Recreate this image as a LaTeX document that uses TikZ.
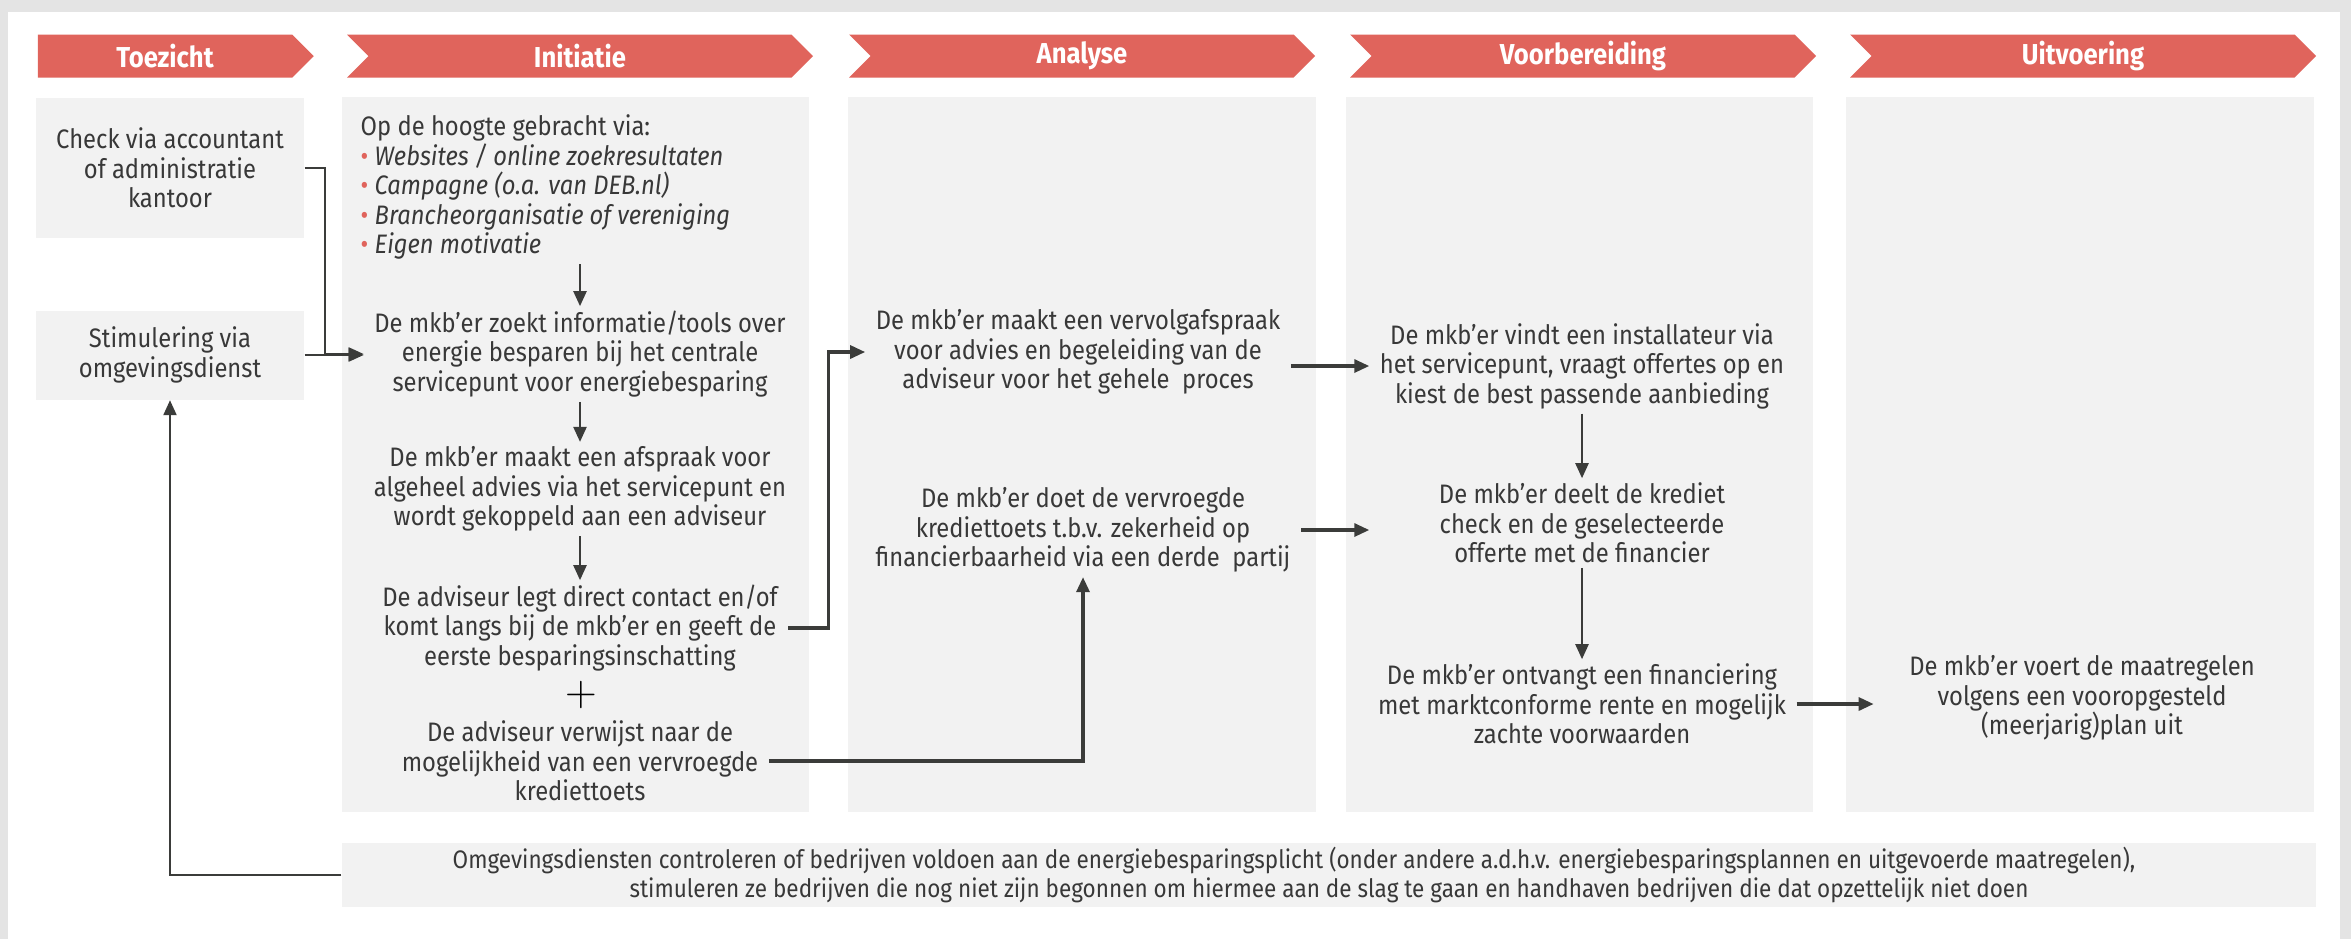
\documentclass[tikz,border=0pt]{standalone}
\usepackage{fontspec}
\setmainfont{Fira Sans}[FakeStretch=0.89]
\usetikzlibrary{arrows.meta,shapes.symbols}
\definecolor{kopRood}{HTML}{E0645C}
\definecolor{vakGrijs}{HTML}{F2F2F2}
\definecolor{lijnGrijs}{HTML}{3B3C3A}
\definecolor{tekstGrijs}{HTML}{383838}
\definecolor{randGrijs}{HTML}{E4E4E4}
\newcommand{\stapfont}{\fontsize{7.6pt}{8.4pt}\selectfont}

\begin{document}
\begin{tikzpicture}[x=0.1mm, y=-0.1mm, >={Triangle[length=1.5mm,width=1.3mm]},
  fase/.style={shape=signal, signal to=east, signal from=west, fill=kopRood, text=white,
    font=\fontsize{8.2pt}{10pt}\selectfont\bfseries, minimum width=46.6mm, minimum height=4.3mm, inner sep=0pt},
  vak/.style={fill=vakGrijs},
  stap/.style={align=center, text=tekstGrijs, font=\stapfont, inner xsep=1mm, inner ysep=0.4mm},
  pijl/.style={->, draw=lijnGrijs, line width=0.65pt},
  dikpijl/.style={->, draw=lijnGrijs, line width=0.9pt}]
  \fill[randGrijs] (0,0) rectangle (2351,939);
  \fill[white] (8,12) rectangle (2340,939);
  \useasboundingbox (0,0) rectangle (2351,939);

  \node[fase, signal from=nothing, minimum width=27.6mm] (toezicht) at (165,56) {Toezicht};
  \node[fase] (initiatie) at (580,56) {Initiatie};
  \node[fase] (analyse) at (1082,56) {Analyse};
  \node[fase] (voorbereiding) at (1583,56) {Voorbereiding};
  \node[fase] (uitvoering) at (2083,56) {Uitvoering};

  \fill[vak] (342,97) rectangle (809,812);
  \fill[vak] (848,97) rectangle (1316,812);
  \fill[vak] (1346,97) rectangle (1813,812);
  \fill[vak] (1846,97) rectangle (2314,812);

  \node[vak, stap, minimum width=26.8mm, minimum height=14mm] (check) at (170,168) {Check via accountant\\of administratie\\kantoor};
  \node[vak, stap, minimum width=26.8mm, minimum height=8.9mm] (stim) at (170,355) {Stimulering via\\omgevingsdienst};
  \node[vak, stap, font=\fontsize{7.2pt}{8.4pt}\selectfont, minimum width=197.4mm, minimum height=6.4mm] (toezichtbalk) at (1329,875) {Omgevingsdiensten controleren of bedrijven voldoen aan de energiebesparingsplicht (onder andere a.d.h.v. energiebesparingsplannen en uitgevoerde maatregelen),\hspace*{7mm}\\stimuleren ze bedrijven die nog niet zijn begonnen om hiermee aan de slag te gaan en handhaven bedrijven die dat opzettelijk niet doen};

  \node[stap, align=left, anchor=north west] (bron) at (350,110) {Op de hoogte gebracht via:\\
    {\color{kopRood}\textbullet}\ \textit{Websites / online zoekresultaten}\\
    {\color{kopRood}\textbullet}\ \textit{Campagne (o.a. van DEB.nl)}\\
    {\color{kopRood}\textbullet}\ \textit{Brancheorganisatie of vereniging}\\
    {\color{kopRood}\textbullet}\ \textit{Eigen motivatie}};
  \node[stap] (zoek) at (580,354) {De mkb’er zoekt informatie/tools over\\energie besparen bij het centrale\\servicepunt voor energiebesparing};
  \node[stap] (afspraak) at (580,489) {De mkb’er maakt een afspraak voor\\algeheel advies via het servicepunt en\\wordt gekoppeld aan een adviseur};
  \node[stap] (contact) at (580,628) {De adviseur legt direct contact en/of\\komt langs bij de mkb’er en geeft de\\eerste besparingsinschatting};
  \node[font=\fontsize{12pt}{12pt}\selectfont, inner sep=0pt] (plus) at (581,695) {$+$};
  \node[stap] (verwijst) at (580,761) {De adviseur verwijst naar de\\mogelijkheid van een vervroegde\\krediettoets};

  \node[stap] (vervolg) at (1078,352) {De mkb’er maakt een vervolgafspraak\\voor advies en begeleiding van de\\adviseur voor het gehele\ \ proces};
  \node[stap] (krediet) at (1083,530) {De mkb’er doet de vervroegde\\krediettoets t.b.v. zekerheid op\\financierbaarheid via een derde\ \ partij};

  \node[stap] (installateur) at (1582,366) {De mkb’er vindt een installateur via\\het servicepunt, vraagt offertes op en\\kiest de best passende aanbieding};
  \node[stap] (deelt) at (1582,523) {De mkb’er deelt de krediet\\check en de geselecteerde\\offerte met de financier};
  \node[stap] (ontvangt) at (1582,704) {De mkb’er ontvangt een financiering\\met marktconforme rente en mogelijk\\zachte voorwaarden};

  \node[stap] (voert) at (2082,698) {De mkb’er voert de maatregelen\\volgens een vooropgesteld\\(meerjarig)plan uit};

  \draw[pijl] (check.east) -- ++(20,0) |- (zoek.west);
  \draw[pijl] (stim.east) -- (stim.east -| zoek.west);
  \draw[pijl] (toezichtbalk.west) -| (stim.south);
  \draw[pijl] (zoek.north |- bron.south) -- (zoek.north);
  \draw[pijl] (zoek) -- (afspraak);
  \draw[pijl] (afspraak) -- (contact);
  \draw[dikpijl] (contact.east) -- ++(40,0) |- (vervolg.west);
  \draw[dikpijl] (verwijst.east) -| (krediet.south);
  \draw[dikpijl] (vervolg.east |- installateur.west) -- (installateur.west);
  \draw[dikpijl] (krediet.east) -- (krediet.east -| installateur.west);
  \draw[pijl] (installateur) -- (deelt);
  \draw[pijl] (deelt) -- (ontvangt);
  \draw[dikpijl, shorten >=2.5mm] (ontvangt.east) -- (ontvangt.east -| voert.west);
\end{tikzpicture}
\end{document}
